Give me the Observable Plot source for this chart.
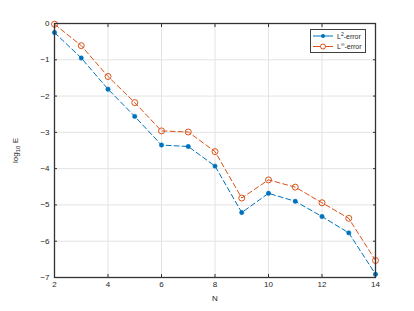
<!DOCTYPE html>
<html>
<head>
<meta charset="utf-8">
<script src="https://cdn.jsdelivr.net/npm/d3@7"></script>
<script src="https://cdn.jsdelivr.net/npm/@observablehq/plot@0.6"></script>
<style>
  body { margin: 0; background: white; }
  #wrap { position: relative; width: 414px; height: 311px; font-family: "Liberation Sans", Arial, sans-serif; }
  #legend { position: absolute; left: 310px; top: 29px; width: 56px; height: 24px; border: 1px solid #404040; background: white; box-sizing: border-box; font-size: 7px; color: #262626; }
  .row { position: absolute; left: 2px; height: 10px; display: flex; align-items: center; }
  .row svg { margin-right: 4px; }
  sup { font-size: 5px; vertical-align: 3px; line-height: 0; }
</style>
</head>
<body>
<div id="wrap"></div>
<script>
const N = [2, 3, 4, 5, 6, 7, 8, 9, 10, 11, 12, 13, 14];
const l2Error = [-0.25, -0.95, -1.81, -2.56, -3.35, -3.39, -3.93, -5.21, -4.68, -4.90, -5.32, -5.77, -6.91];
const linfError = [-0.02, -0.61, -1.46, -2.18, -2.96, -2.99, -3.53, -4.81, -4.31, -4.51, -4.94, -5.37, -6.53];
const xTicks = [2, 4, 6, 8, 10, 12, 14];
const yTicks = [0, -1, -2, -3, -4, -5, -6, -7];

const blue = "#0072BD";
const orange = "#D95319";

const l2 = N.map((n, i) => ({N: n, v: l2Error[i]}));
const linf = N.map((n, i) => ({N: n, v: linfError[i]}));

const chart = Plot.plot({
  width: 414,
  height: 311,
  marginLeft: 54,
  marginRight: 39,
  marginTop: 23,
  marginBottom: 34,
  style: {fontFamily: "Liberation Sans, Arial, sans-serif", fontSize: "8px", color: "#262626", background: "white"},
  x: {domain: [2, 14]},
  y: {domain: [-7, 0]},
  marks: [
    Plot.gridX(xTicks, {stroke: "#e3e3e3", strokeOpacity: 1}),
    Plot.gridY(yTicks, {stroke: "#e3e3e3", strokeOpacity: 1}),
    Plot.line(l2, {x: "N", y: "v", stroke: blue, strokeWidth: 1, strokeDasharray: "5,3"}),
    Plot.dot(l2, {x: "N", y: "v", r: 2.2, fill: blue, stroke: blue, strokeWidth: 0.5}),
    Plot.line(linf, {x: "N", y: "v", stroke: orange, strokeWidth: 1, strokeDasharray: "5,3"}),
    Plot.dot(linf, {x: "N", y: "v", r: 3, fill: "white", fillOpacity: 0, stroke: orange, strokeWidth: 1}),
    Plot.frame({stroke: "#333333", strokeWidth: 1.3}),
    Plot.axisX(xTicks, {anchor: "bottom", tickSize: -3, tickPadding: 7, stroke: "#333333", label: "N", labelAnchor: "center", labelArrow: "none", labelOffset: 23, fontSize: 8}),
    Plot.axisX(xTicks, {anchor: "top", tickSize: -3, text: null, label: null, stroke: "#333333"}),
    Plot.axisY(yTicks, {anchor: "left", tickSize: -3, tickPadding: 8, stroke: "#333333", label: "log10 E", labelAnchor: "center", labelArrow: "none", labelOffset: 42, fontSize: 8}),
    Plot.axisY(yTicks, {anchor: "right", tickSize: -3, text: null, label: null, stroke: "#333333"})
  ]
});

document.getElementById("wrap").appendChild(chart);

// subscript in the y label
d3.select(chart).selectAll("text").each(function() {
  const t = d3.select(this);
  if (t.text() === "log10 E") {
    t.text(null);
    t.append("tspan").text("log");
    t.append("tspan").attr("font-size", "6px").attr("dy", "2").text("10");
    t.append("tspan").attr("dy", "-2").text(" E");
  }
});

const legend = document.createElement("div");
legend.id = "legend";
legend.innerHTML = `
  <div class="row" style="top:1px"><svg width="20" height="6"><line x1="0" y1="3" x2="20" y2="3" stroke="${blue}" stroke-width="1"/><circle cx="10" cy="3" r="2" fill="${blue}"/></svg><span>L<sup>2</sup>-error</span></div>
  <div class="row" style="top:11px"><svg width="20" height="7"><line x1="0" y1="3.5" x2="20" y2="3.5" stroke="${orange}" stroke-width="1"/><circle cx="10" cy="3.5" r="2.5" fill="white" stroke="${orange}" stroke-width="1"/></svg><span>L<sup>∞</sup>-error</span></div>`;
document.getElementById("wrap").appendChild(legend);
</script>
</body>
</html>
